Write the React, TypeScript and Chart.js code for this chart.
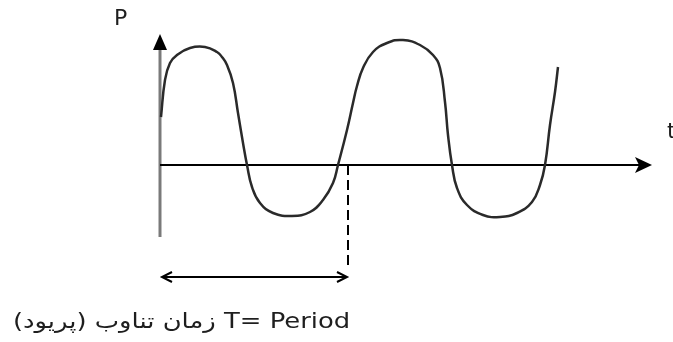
import { useEffect, useRef } from "react";
import Chart from "chart.js/auto";

// Waveform samples: time t and power P (origin at the axes' crossing)
const tValues = [
  0.05, 0.25, 0.5, 0.85, 1.5, 2.25, 2.85, 3.1, 3.35, 3.65, 3.9, 4.15, 4.35, 4.6,
  5.0, 5.65, 6.6, 7.5, 8.15, 8.65, 8.9, 9.35, 9.65, 9.85, 10.15, 10.65, 11.35,
  12.15, 13.0, 13.65, 14.0, 14.25, 14.4, 14.6, 14.85, 15.35, 16.15, 17.0, 17.85,
  18.6, 19.0, 19.25, 19.5, 19.75, 19.9,
];
const pValues = [
  2.4, 4.25, 5.1, 5.5, 5.85, 5.9, 5.65, 5.4, 5.0, 4.1, 2.6, 1.1, 0, -1.1, -1.9,
  -2.4, -2.55, -2.35, -1.75, -0.9, 0, 1.75, 3.1, 3.95, 4.85, 5.65, 6.1, 6.25,
  6.0, 5.5, 4.85, 3.15, 1.5, 0, -1.15, -2.0, -2.5, -2.6, -2.4, -1.85, -1.0, 0,
  2.0, 3.65, 4.9,
];

// Axis extents and the period marker
const T_MIN = -8;
const T_MAX = 25.65;
const P_MIN = -8.85;
const P_MAX = 8.25;
const T_AXIS_END = 24.6;
const P_AXIS_TOP = 6.55;
const P_AXIS_BOTTOM = -3.6;
const PERIOD = 9.4;
const PERIOD_LINE_BOTTOM = -5.15;
const PERIOD_ARROW_LEVEL = -5.6;
const PERIOD_ARROW_START = 0.1;

const labelP = "P";
const labelT = "t";
const caption = "T= Period زمان تناوب (پریود)";

const arrowAxes = {
  id: "arrowAxes",
  beforeDatasetsDraw(chart: any) {
    const { ctx } = chart;
    const xs = chart.scales.x;
    const ys = chart.scales.y;
    const x0 = xs.getPixelForValue(0);
    const y0 = ys.getPixelForValue(0);
    const yTop = ys.getPixelForValue(P_AXIS_TOP);
    const yBot = ys.getPixelForValue(P_AXIS_BOTTOM);
    const xEnd = xs.getPixelForValue(T_AXIS_END);

    ctx.save();
    // vertical axis
    ctx.strokeStyle = "#7a7a7a";
    ctx.lineWidth = 3;
    ctx.beginPath();
    ctx.moveTo(x0, yBot);
    ctx.lineTo(x0, yTop + 12);
    ctx.stroke();
    ctx.fillStyle = "#000";
    ctx.beginPath();
    ctx.moveTo(x0, yTop);
    ctx.lineTo(x0 - 7, yTop + 16);
    ctx.lineTo(x0 + 7, yTop + 16);
    ctx.closePath();
    ctx.fill();

    // horizontal axis
    ctx.strokeStyle = "#000";
    ctx.lineWidth = 2;
    ctx.beginPath();
    ctx.moveTo(x0, y0);
    ctx.lineTo(xEnd - 12, y0);
    ctx.stroke();
    ctx.beginPath();
    ctx.moveTo(xEnd, y0);
    ctx.lineTo(xEnd - 17, y0 - 8);
    ctx.lineTo(xEnd - 13, y0);
    ctx.lineTo(xEnd - 17, y0 + 8);
    ctx.closePath();
    ctx.fill();

    // period marker: dashed drop line
    const xp = xs.getPixelForValue(PERIOD);
    ctx.lineWidth = 2;
    ctx.setLineDash([10, 5]);
    ctx.beginPath();
    ctx.moveTo(xp, y0);
    ctx.lineTo(xp, ys.getPixelForValue(PERIOD_LINE_BOTTOM));
    ctx.stroke();
    ctx.setLineDash([]);

    // double-headed arrow spanning one period
    const ya = ys.getPixelForValue(PERIOD_ARROW_LEVEL);
    const xa = xs.getPixelForValue(PERIOD_ARROW_START);
    const xb = xp - 1;
    ctx.beginPath();
    ctx.moveTo(xa, ya);
    ctx.lineTo(xb, ya);
    ctx.moveTo(xa + 10, ya - 5);
    ctx.lineTo(xa, ya);
    ctx.lineTo(xa + 10, ya + 5);
    ctx.moveTo(xb - 10, ya - 5);
    ctx.lineTo(xb, ya);
    ctx.lineTo(xb - 10, ya + 5);
    ctx.stroke();
    ctx.restore();
  },
};

export default function App() {
  const canvasRef = useRef<HTMLCanvasElement | null>(null);

  useEffect(() => {
    const canvas = canvasRef.current;
    if (!canvas) return;
    const chart = new Chart(canvas, {
      type: "line",
      data: {
        datasets: [
          {
            data: tValues.map((t, i) => ({ x: t, y: pValues[i] })),
            borderColor: "#2a2a2a",
            borderWidth: 2.5,
            pointRadius: 0,
            tension: 0.45,
            fill: false,
          },
        ],
      },
      options: {
        responsive: false,
        animation: false,
        devicePixelRatio: 1,
        layout: { padding: 0 },
        plugins: {
          legend: { display: false },
          tooltip: { enabled: false },
        },
        scales: {
          x: { type: "linear", min: T_MIN, max: T_MAX, display: false },
          y: { type: "linear", min: P_MIN, max: P_MAX, display: false },
        },
      },
      plugins: [arrowAxes],
    });
    return () => chart.destroy();
  }, []);

  const font = "'DejaVu Sans', sans-serif";
  return (
    <div
      style={{
        position: "fixed",
        left: 0,
        top: 0,
        width: 673,
        height: 342,
        background: "#fff",
        overflow: "hidden",
      }}
    >
      <canvas
        ref={canvasRef}
        width={673}
        height={342}
        style={{ position: "absolute", left: 0, top: 0 }}
      />
      <span
        style={{
          position: "absolute",
          left: 114,
          top: 5,
          fontFamily: font,
          fontSize: 22,
          lineHeight: "26px",
          color: "#1e1e1e",
        }}
      >
        {labelP}
      </span>
      <span
        style={{
          position: "absolute",
          left: 667,
          top: 118,
          fontFamily: font,
          fontSize: 22,
          lineHeight: "26px",
          color: "#1e1e1e",
        }}
      >
        {labelT}
      </span>
      <div
        dir="rtl"
        style={{
          position: "absolute",
          right: 323,
          top: 308,
          fontFamily: font,
          fontSize: 21,
          lineHeight: "26px",
          color: "#1e1e1e",
          whiteSpace: "nowrap",
          transform: "scaleX(1.23)",
          transformOrigin: "right center",
        }}
      >
        {caption}
      </div>
    </div>
  );
}
